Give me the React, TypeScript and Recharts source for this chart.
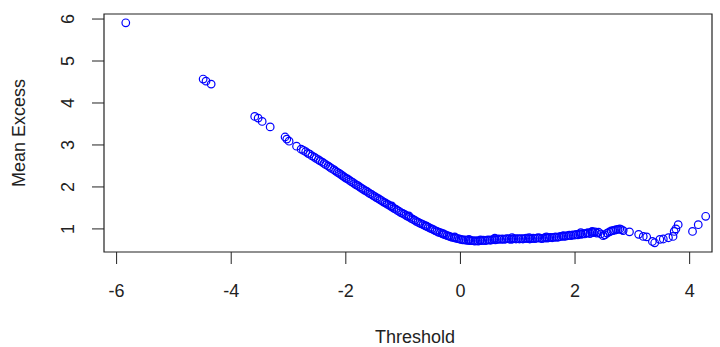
import { ScatterChart, Scatter, XAxis, YAxis, ReferenceArea } from 'recharts'

// threshold (u) and mean excess e(u)
const threshold = [
  -5.84, -4.49, -4.44, -4.35, -3.59, -3.53, -3.46, -3.32, -3.06, -3.03, -2.99, -2.86,
  -2.78, -2.74, -2.70, -2.66, -2.63, -2.59, -2.55, -2.52, -2.48, -2.45, -2.41, -2.38,
  -2.35, -2.31, -2.28, -2.25, -2.21, -2.18, -2.15, -2.12, -2.09, -2.06, -2.03, -2.00,
  -1.97, -1.94, -1.91, -1.88, -1.85, -1.82, -1.79, -1.76, -1.73, -1.70, -1.67, -1.64,
  -1.61, -1.58, -1.55, -1.52, -1.49, -1.46, -1.43, -1.40, -1.37, -1.34, -1.31, -1.28,
  -1.25, -1.22, -1.19, -1.16, -1.13, -1.10, -1.07, -1.04, -1.01, -0.98, -0.95, -0.92,
  -0.89, -0.86, -0.83, -0.80, -0.77, -0.74, -0.71, -0.68, -0.65, -0.62, -0.59, -0.56,
  -0.53, -0.50, -0.47, -0.44, -0.41, -0.38, -0.35, -0.32, -0.29, -0.26, -0.23, -0.20,
  -0.17, -0.14, -0.11, -0.08, -0.05, -0.02, 0.01, 0.04, 0.07, 0.10, 0.13, 0.16,
  0.19, 0.22, 0.25, 0.28, 0.31, 0.34, 0.37, 0.40, 0.43, 0.46, 0.49, 0.52,
  0.55, 0.58, 0.61, 0.64, 0.67, 0.70, 0.73, 0.76, 0.79, 0.82, 0.85, 0.88,
  0.91, 0.94, 0.97, 1.00, 1.03, 1.06, 1.09, 1.12, 1.15, 1.18, 1.21, 1.24,
  1.27, 1.30, 1.33, 1.36, 1.39, 1.42, 1.45, 1.48, 1.51, 1.54, 1.57, 1.60,
  1.63, 1.66, 1.69, 1.72, 1.75, 1.78, 1.81, 1.84, 1.87, 1.90, 1.93, 1.96,
  1.99, 2.02, 2.05, 2.08, 2.11, 2.14, 2.17, 2.20, 2.23, 2.26, 2.29, 2.32,
  2.35, 2.38, 2.41, 2.45, 2.49, 2.52, 2.56, 2.60, 2.63, 2.66, 2.69, 2.72,
  2.75, 2.78, 2.81, 2.84, 2.95, 3.11, 3.19, 3.25, 3.35, 3.39, 3.48, 3.54,
  3.63, 3.71, 3.73, 3.76, 3.80, 4.05, 4.15, 4.28,
  // extra points that thicken the dense band
  -1.20, -0.90, -0.60, -0.30, -0.10, 0.15, 0.35, 0.60, 0.90, 1.20, 1.50, 1.80, 2.10, 2.30,
]

const meanExcess = [
  5.91, 4.57, 4.52, 4.45, 3.68, 3.64, 3.56, 3.43, 3.19, 3.14, 3.09, 2.97,
  2.90, 2.87, 2.84, 2.80, 2.78, 2.74, 2.71, 2.68, 2.65, 2.62, 2.59, 2.56,
  2.53, 2.50, 2.47, 2.44, 2.41, 2.38, 2.35, 2.33, 2.30, 2.27, 2.24, 2.21,
  2.19, 2.16, 2.13, 2.11, 2.08, 2.05, 2.03, 2.00, 1.97, 1.95, 1.92, 1.90,
  1.87, 1.84, 1.82, 1.79, 1.77, 1.74, 1.72, 1.69, 1.67, 1.64, 1.62, 1.59,
  1.57, 1.54, 1.52, 1.49, 1.47, 1.44, 1.42, 1.39, 1.37, 1.35, 1.32, 1.30,
  1.28, 1.25, 1.23, 1.21, 1.18, 1.16, 1.14, 1.12, 1.10, 1.08, 1.06, 1.04,
  1.02, 1.00, 0.98, 0.96, 0.94, 0.92, 0.91, 0.89, 0.87, 0.86, 0.84, 0.83,
  0.81, 0.80, 0.79, 0.78, 0.77, 0.76, 0.75, 0.74, 0.74, 0.73, 0.73, 0.72,
  0.72, 0.72, 0.71, 0.72, 0.71, 0.72, 0.72, 0.73, 0.72, 0.73, 0.74, 0.73,
  0.74, 0.75, 0.74, 0.75, 0.76, 0.75, 0.76, 0.75, 0.76, 0.77, 0.76, 0.75,
  0.76, 0.77, 0.76, 0.77, 0.76, 0.77, 0.76, 0.77, 0.78, 0.77, 0.76, 0.77,
  0.78, 0.77, 0.78, 0.79, 0.78, 0.77, 0.78, 0.79, 0.78, 0.79, 0.80, 0.79,
  0.80, 0.81, 0.80, 0.81, 0.82, 0.83, 0.82, 0.83, 0.84, 0.85, 0.84, 0.86,
  0.85, 0.87, 0.86, 0.88, 0.87, 0.89, 0.88, 0.90, 0.91, 0.89, 0.92, 0.91,
  0.93, 0.90, 0.92, 0.88, 0.84, 0.86, 0.90, 0.93, 0.95, 0.96, 0.97, 0.98,
  0.99, 1.00, 0.98, 0.96, 0.93, 0.87, 0.82, 0.81, 0.70, 0.67, 0.75, 0.76,
  0.79, 0.82, 0.94, 1.00, 1.10, 0.94, 1.10, 1.30,
  1.55, 1.31, 1.07, 0.89, 0.81, 0.75, 0.74, 0.78, 0.79, 0.79, 0.81, 0.84, 0.91, 0.94,
]

const xTicks = [-6, -4, -2, 0, 2, 4]
const yTicks = [1, 2, 3, 4, 5, 6]

const data = threshold.map((x, i) => ({ x, y: meanExcess[i] }))

const XDOM: [number, number] = [-6.22, 4.39]
const YDOM: [number, number] = [0.45, 6.12]
const FONT = '"Liberation Sans", Arial, sans-serif'
const INK = '#222'

const YTick = (props: any) => {
  const { x, y, payload } = props
  return (
    <text
      x={x}
      y={y}
      transform={`rotate(-90, ${x}, ${y})`}
      textAnchor="middle"
      fontFamily={FONT}
      fontSize={18}
      fill={INK}
    >
      {payload.value}
    </text>
  )
}

const Ring = (props: any) => (
  <circle cx={props.cx} cy={props.cy} r={3.8} fill="none" stroke="#0000ff" strokeWidth={1.2} />
)

export default function App() {
  return (
    <div style={{ position: 'absolute', left: 0, top: 0, background: '#fff' }}>
      <ScatterChart width={720} height={347} margin={{ top: 14, right: 8, bottom: 0, left: 0 }}>
        <XAxis
          type="number"
          dataKey="x"
          domain={XDOM}
          ticks={xTicks}
          allowDataOverflow
          axisLine={false}
          tickLine={{ stroke: INK }}
          tickSize={12}
          tickMargin={20}
          height={95}
          tick={{ fill: INK, fontSize: 18, fontFamily: FONT }}
          label={{ value: 'Threshold', position: 'insideBottom', offset: 4, dx: 7, fill: INK, fontSize: 18, fontFamily: FONT }}
        />
        <YAxis
          type="number"
          dataKey="y"
          domain={YDOM}
          ticks={yTicks}
          allowDataOverflow
          axisLine={false}
          tickLine={{ stroke: INK }}
          tickSize={12}
          tickMargin={18}
          width={104}
          tick={<YTick />}
          label={{
            content: (p: any) => {
              const vb = p.viewBox
              const cy = vb.y + vb.height / 2
              return (
                <text
                  x={25}
                  y={cy}
                  transform={`rotate(-90, 25, ${cy})`}
                  textAnchor="middle"
                  fontFamily={FONT}
                  fontSize={18}
                  fill={INK}
                >
                  Mean Excess
                </text>
              )
            },
          }}
        />
        <ReferenceArea x1={XDOM[0]} x2={XDOM[1]} y1={YDOM[0]} y2={YDOM[1]} fill="none" stroke={INK} strokeWidth={1.2} ifOverflow="visible" />
        <Scatter data={data} shape={Ring} isAnimationActive={false} />
      </ScatterChart>
    </div>
  )
}
